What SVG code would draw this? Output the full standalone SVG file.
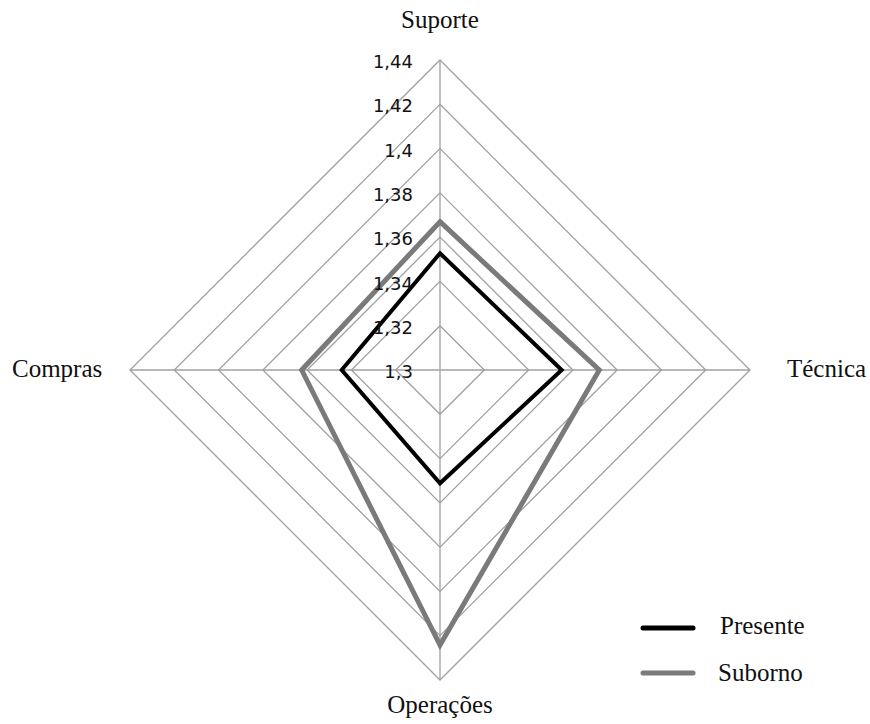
<svg xmlns="http://www.w3.org/2000/svg" width="870" height="724" viewBox="0 0 870 724">
<style>
.grid{fill:none;stroke:#a0a0a0;stroke-width:1.3}
.tick{font-family:"DejaVu Sans",sans-serif;font-size:18px;fill:#111;text-anchor:end}
.cat{font-family:"Liberation Serif","Times New Roman",serif;font-size:25px;fill:#111}
.pres{fill:none;stroke:#000;stroke-width:4;stroke-linejoin:miter}
.sub{fill:none;stroke:#7a7a7a;stroke-width:5;stroke-linejoin:miter}
</style>
<rect width="870" height="724" fill="#fff"/>
<g id="grid">
<polygon class="grid" points="440,325.7 484.3,370 440,414.3 395.7,370"/>
<polygon class="grid" points="440,281.4 528.6,370 440,458.6 351.4,370"/>
<polygon class="grid" points="440,237.1 572.9,370 440,502.9 307.1,370"/>
<polygon class="grid" points="440,192.9 617.1,370 440,547.1 262.9,370"/>
<polygon class="grid" points="440,148.6 661.4,370 440,591.4 218.6,370"/>
<polygon class="grid" points="440,104.3 705.7,370 440,635.7 174.3,370"/>
<polygon class="grid" points="440,60 750,370 440,680 130,370"/>
<line class="grid" x1="440" y1="60" x2="440" y2="680"/>
<line class="grid" x1="130" y1="370" x2="750" y2="370"/>
</g>
<g id="connectors">
<polygon id="series-suborno" class="sub" points="440,221.7 599.3,370 440,645 301.7,370"/>
<polygon id="series-presente" class="pres" points="440,253.3 561.7,370 440,483.3 341.7,370"/>
</g>
<g id="ticks">
<text class="tick" x="413" y="68">1,44</text>
<text class="tick" x="413" y="112">1,42</text>
<text class="tick" x="413" y="157">1,4</text>
<text class="tick" x="413" y="201">1,38</text>
<text class="tick" x="413" y="245">1,36</text>
<text class="tick" x="413" y="290">1,34</text>
<text class="tick" x="413" y="334">1,32</text>
<text class="tick" x="413" y="378">1,3</text>
</g>
<g id="suporte"><text class="cat" x="440" y="28" text-anchor="middle">Suporte</text></g>
<g id="tecnica"><text class="cat" x="787" y="377">Técnica</text></g>
<g id="operacoes"><text class="cat" x="440" y="713" text-anchor="middle">Operações</text></g>
<g id="compras"><text class="cat" x="12" y="377">Compras</text></g>
<g id="legend">
<line x1="643" y1="628" x2="693" y2="628" stroke="#000" stroke-width="5" stroke-linecap="round"/>
<text class="cat" x="720" y="634">Presente</text>
<line x1="643" y1="673" x2="693" y2="673" stroke="#7a7a7a" stroke-width="5" stroke-linecap="round"/>
<text class="cat" x="718" y="681">Suborno</text>
</g>
</svg>
